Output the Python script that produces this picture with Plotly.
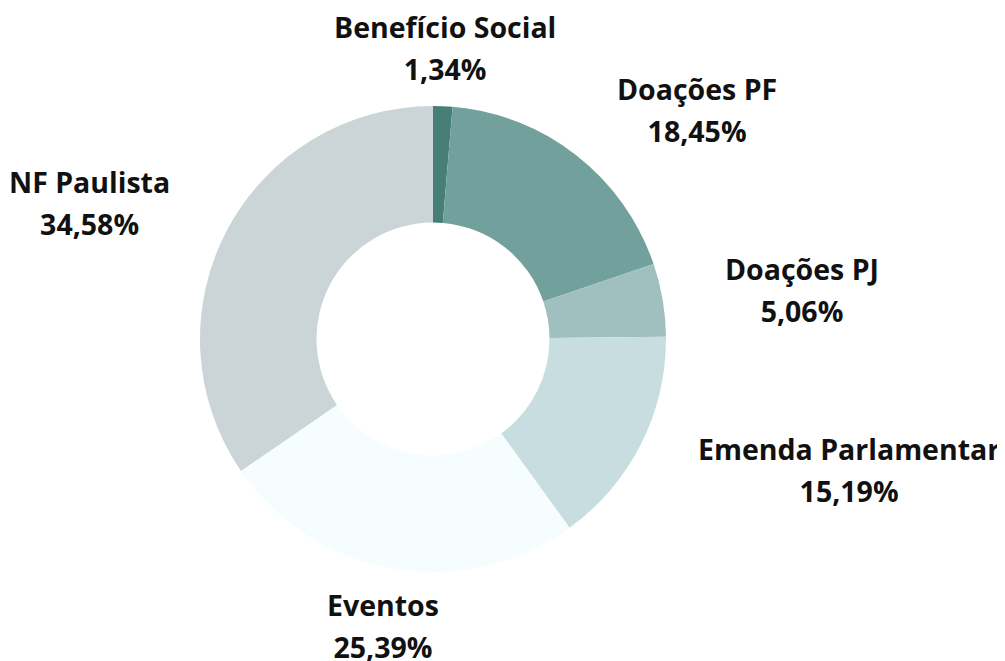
import math
import plotly.graph_objects as go

labels = ["Benefício Social", "Doações PF", "Doações PJ", "Emenda Parlamentar", "Eventos", "NF Paulista"]
values = [1.34, 18.45, 5.06, 15.19, 25.39, 34.58]
colors = ["#467f78", "#72a09c", "#a0bfbf", "#c8dddf", "#f6fdfe", "#cbd4d7"]

W, H = 1005, 661
CX, CY, R = 425, 331, 233      # donut centre and outer radius, px
LABEL_R = R + 58               # where the outside labels sit

fig = go.Figure(go.Pie(
    labels=labels,
    values=values,
    hole=0.5,
    sort=False,
    direction="clockwise",
    rotation=0,
    marker=dict(colors=colors, line=dict(width=0)),
    textinfo="none",
    showlegend=False,
    domain=dict(x=[(CX - R) / W, (CX + R) / W], y=[1 - (CY + R) / H, 1 - (CY - R) / H]),
))

# outside labels: placed along each slice's mid angle
total = sum(values)
cum = 0
for lab, val in zip(labels, values):
    mid = (cum + val / 2) / total * 2 * math.pi
    cum += val
    vx, vy = math.sin(mid), -math.cos(mid)
    px, py = CX + vx * LABEL_R, CY + vy * LABEL_R
    if abs(vx) < 0.3:
        anchor, shift = "center", 0
    elif vx > 0:
        anchor, shift = "left", 3
    else:
        anchor, shift = "right", -3
    txt = f"{val:.2f}".replace(".", ",")
    fig.add_annotation(
        x=px / W, y=1 - py / H, xref="paper", yref="paper",
        text=f"<b><span style='font-size:28.5px'>{lab}</span></b><br><b><span style='font-size:28.5px'>{txt}%</span></b>",
        showarrow=False, xanchor=anchor, yanchor="middle", align="center", xshift=shift,
        font=dict(family="Open Sans", size=32, color="#111111"),
    )

fig.update_layout(
    width=W, height=H,
    margin=dict(l=0, r=0, t=0, b=0),
    paper_bgcolor="white",
)

fig.write_html("out.html")
